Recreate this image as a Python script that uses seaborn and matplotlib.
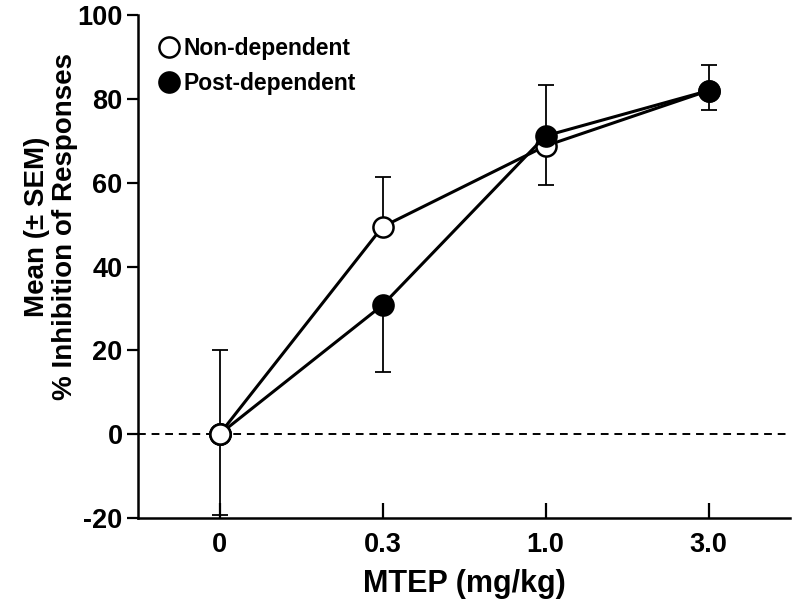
import numpy as np
import pandas as pd
import matplotlib
matplotlib.use("Agg")
import matplotlib.pyplot as plt
import seaborn as sns

# data
doses = ["0", "0.3", "1.0", "3.0"]
non_dep = [0.0, 49.5, 68.8, 82.0]
post_dep = [0.0, 30.8, 71.2, 82.0]
# one-sided SEM bars as drawn (lower, upper)
non_dep_lo = [0.0, 0.0, 9.4, 0.0]
non_dep_hi = [20.0, 12.0, 0.0, 6.0]
post_dep_lo = [19.2, 15.9, 0.0, 4.6]
post_dep_hi = [0.0, 0.0, 12.2, 0.0]

sns.set_style("ticks")
plt.rcParams['font.family'] = ['Liberation Sans', 'DejaVu Sans']
plt.rcParams['font.weight'] = 'bold'
plt.rcParams['axes.unicode_minus'] = False
plt.rcParams['text.color'] = 'black'
plt.rcParams['axes.labelcolor'] = 'black'
plt.rcParams['xtick.color'] = 'black'
plt.rcParams['ytick.color'] = 'black'
plt.rcParams['axes.edgecolor'] = 'black'

df = pd.DataFrame({
    "dose": np.concatenate([np.arange(len(doses))] * 2),
    "value": non_dep + post_dep,
    "group": ["Non-dependent"] * len(doses) + ["Post-dependent"] * len(doses),
})

fig, ax = plt.subplots(figsize=(8, 6.08), dpi=100)
fig.subplots_adjust(left=0.1725, right=0.9875, top=0.975, bottom=0.148)

ax.axhline(0, color="black", linestyle=(0, (4, 3)), linewidth=1.4, zorder=1)

x = np.arange(len(doses))
ax.errorbar(x, non_dep, yerr=[non_dep_lo, non_dep_hi], fmt="none",
            ecolor="black", elinewidth=1.3, capsize=6, capthick=1.3, zorder=2)
ax.errorbar(x, post_dep, yerr=[post_dep_lo, post_dep_hi], fmt="none",
            ecolor="black", elinewidth=1.3, capsize=6, capthick=1.3, zorder=2)

sns.lineplot(data=df[df.group == "Non-dependent"], x="dose", y="value", ax=ax,
             color="black", linewidth=2.2, marker="o", markersize=14.5,
             markerfacecolor="white", markeredgecolor="black", markeredgewidth=1.8,
             label="Non-dependent", zorder=3)
sns.lineplot(data=df[df.group == "Post-dependent"], x="dose", y="value", ax=ax,
             color="black", linewidth=2.2, marker="o", markersize=14.5,
             markerfacecolor="black", markeredgecolor="black", markeredgewidth=1.8,
             label="Post-dependent", zorder=4)
# open marker at zero sits on top in the original
ax.plot(x[:1], non_dep[:1], "o", markersize=14.5, markerfacecolor="white",
        markeredgecolor="black", markeredgewidth=1.8, zorder=5)

ax.set_xlim(-0.5, 3.5)
ax.set_ylim(-20, 100)
ax.set_xticks(x)
ax.set_xticklabels(doses)
ax.set_yticks(np.arange(-20, 101, 20))

sns.despine(ax=ax)
for s in ["left", "bottom"]:
    ax.spines[s].set_linewidth(1.8)
ax.tick_params(axis="y", direction="out", length=8, width=1.6, labelsize=19.5, pad=3)
ax.tick_params(axis="x", direction="in", length=11, width=1.6, labelsize=19.5, pad=10)
for lab in ax.get_xticklabels() + ax.get_yticklabels():
    lab.set_fontweight("bold")

ax.set_xlabel("MTEP (mg/kg)", fontsize=22, fontweight="bold", labelpad=8)
ax.set_ylabel("Mean (± SEM)\n% Inhibition of Responses", fontsize=20,
              fontweight="bold", linespacing=1.1)
ax.yaxis.set_label_coords(-0.092, 0.58)

leg = ax.legend(loc="upper left", bbox_to_anchor=(0.0, 0.997), frameon=False,
                handlelength=0.9, handletextpad=0.2, borderaxespad=0.5,
                labelspacing=0.5, prop={"size": 16.5, "weight": "bold"})
for h in leg.legend_handles:
    h.set_linestyle("none")

fig.savefig("out.png", dpi=100)
